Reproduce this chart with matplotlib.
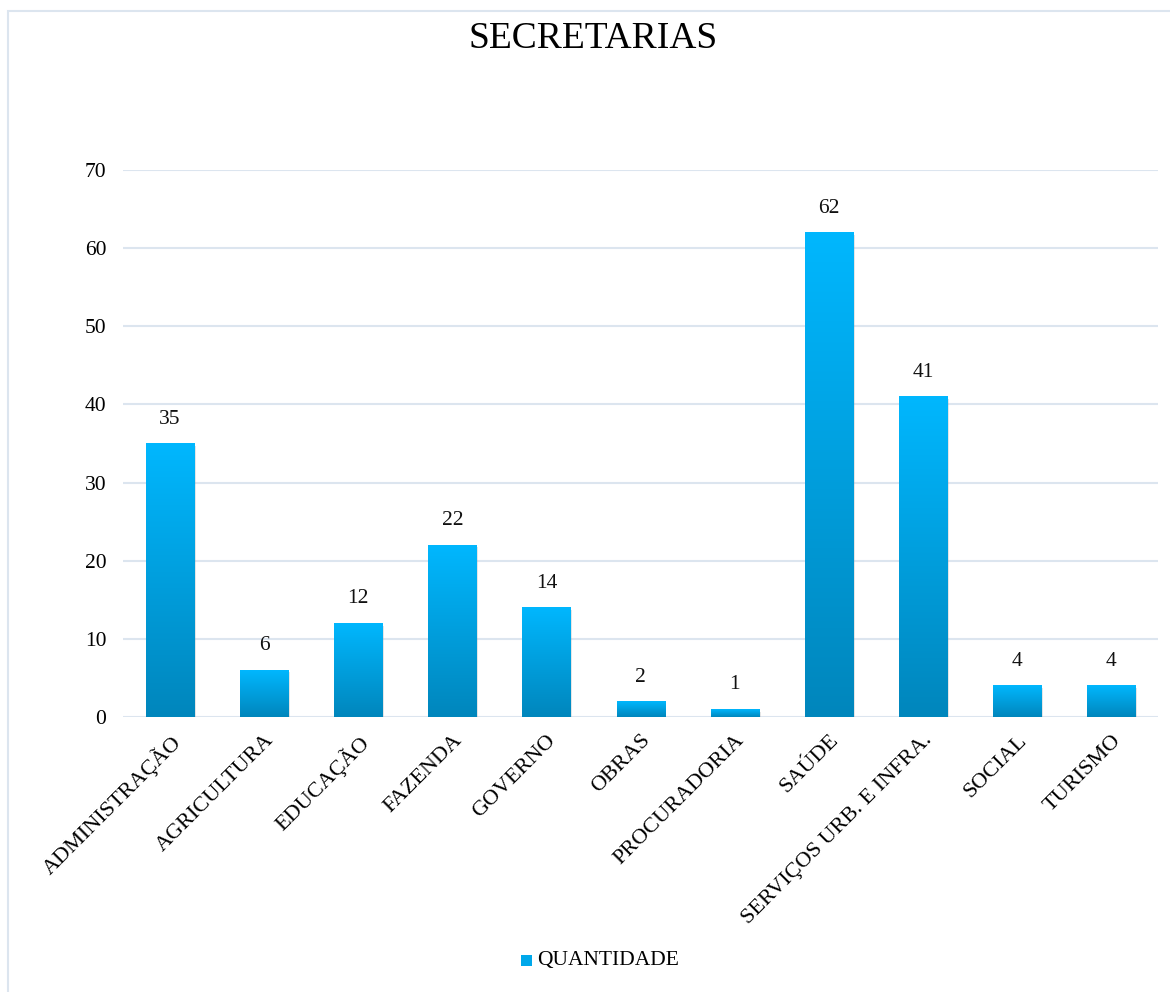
import numpy as np
import matplotlib.pyplot as plt
from matplotlib.colors import LinearSegmentedColormap
from matplotlib.patches import Rectangle

plt.rcParams['font.family'] = ['Liberation Serif', 'DejaVu Serif']

#%% Data

categorias = ["ADMINISTRAÇÃO", "AGRICULTURA", "EDUCAÇÃO", "FAZENDA", "GOVERNO",
              "OBRAS", "PROCURADORIA", "SAÚDE", "SERVIÇOS URB. E INFRA.",
              "SOCIAL", "TURISMO"]
quantidade = [35, 6, 12, 22, 14, 2, 1, 62, 41, 4, 4]
yticks = [0, 10, 20, 30, 40, 50, 60, 70]

#%% Plot

fig = plt.figure(figsize=(11.7, 9.92), dpi=100)
ax = fig.add_axes([0.105, 0.2772, 0.885, 0.5514])

# light frame round the chart
fig.patches.append(Rectangle((8 / 1170, -0.1), 1.2, 1 - 11 / 992 + 0.1,
                             transform=fig.transFigure, fill=False,
                             edgecolor="#DCE5EF", linewidth=1.5))

cmap = LinearSegmentedColormap.from_list("bar", ["#0086BC", "#00B7FE"])
grad = np.linspace(0, 1, 256).reshape(-1, 1)
width = 0.51
x = np.arange(len(categorias))

for xi, q in zip(x, quantidade):
    # soft shadow
    ax.add_patch(Rectangle((xi - width / 2 + 0.02, -0.6), width, q + 0.3,
                           facecolor="#999999", alpha=0.25, edgecolor="none", zorder=1))
    ax.imshow(grad, cmap=cmap, origin="lower", aspect="auto",
              extent=[xi - width / 2, xi + width / 2, 0, q], zorder=2)
    ax.text(xi, q + 1.9, str(q), ha="center", va="bottom", fontsize=15.5, color="#111111")

ax.set_xlim(-0.5, len(categorias) - 0.5)
ax.set_ylim(0, 70)
ax.set_yticks(yticks)
ax.set_xticks(x)
ax.set_xticklabels(categorias, rotation=45, ha="right", rotation_mode="anchor",
                   fontsize=16)
ax.tick_params(axis="y", labelsize=15.5, length=0, pad=12)
ax.tick_params(axis="x", length=0, pad=10)
ax.grid(axis="y", color="#DCE5EF", linewidth=1.5, zorder=0)
ax.set_axisbelow(True)
for s in ax.spines.values():
    s.set_visible(False)

fig.text(0.507, 0.961, "SECRETARIAS", ha="center", va="center", fontsize=27)

# legend
fig.patches.append(Rectangle((521 / 1170, 1 - 966 / 992), 11 / 1170, 11 / 992,
                             transform=fig.transFigure, facecolor="#00A8EA",
                             edgecolor="none"))
fig.text(537 / 1170, 1 - 961 / 992, "QUANTIDADE", ha="left", va="center", fontsize=15.5)

fig.savefig("out.png", dpi=100)
